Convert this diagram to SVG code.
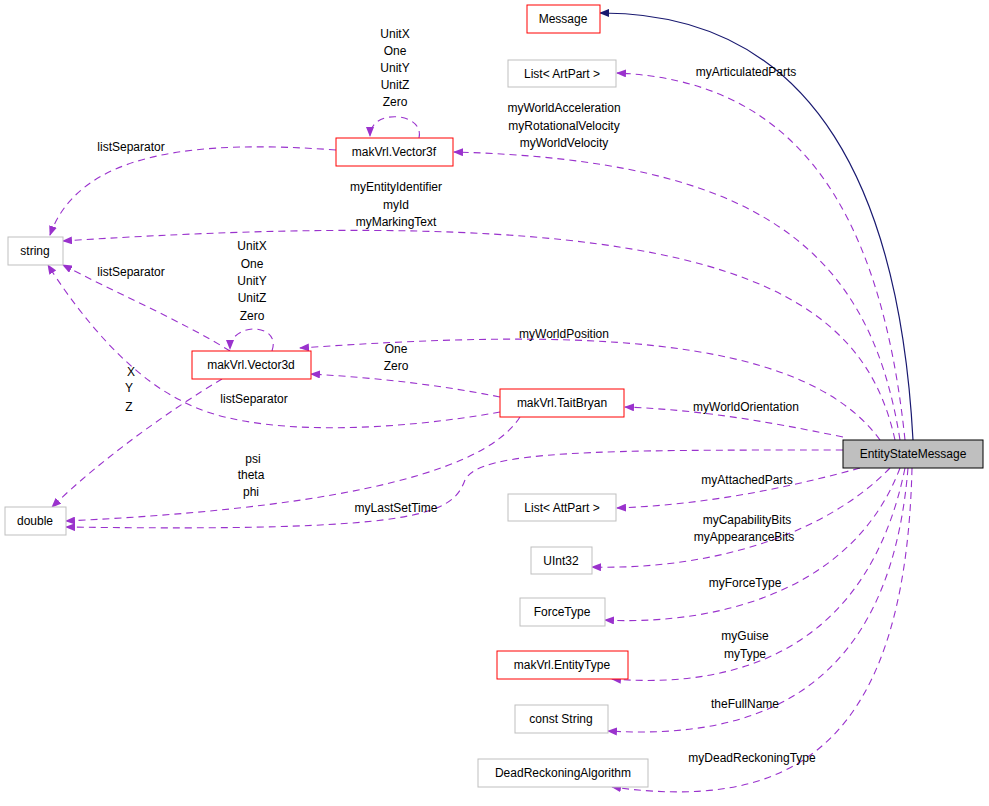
<svg xmlns="http://www.w3.org/2000/svg" width="989" height="806" viewBox="0 0 989 806">
<style>
text{font-family:"Liberation Sans",Arial,sans-serif;font-size:12px;fill:#000;text-anchor:middle}
.n rect{fill:#fff;stroke:#bfbfbf;stroke-width:1}
.r rect{stroke:#ff0000}
.e{fill:none;stroke:#9a32cd;stroke-dasharray:7,5;stroke-width:1.1;marker-end:url(#p)}
</style>
<defs>
<marker id="p" markerWidth="10" markerHeight="8" refX="9" refY="4" orient="auto" markerUnits="userSpaceOnUse"><path d="M0,0L10,4L0,8z" fill="#9a32cd"/></marker>
<marker id="b" markerWidth="10" markerHeight="8" refX="9" refY="4" orient="auto" markerUnits="userSpaceOnUse"><path d="M0,0L10,4L0,8z" fill="#191970"/></marker>
</defs>
<rect width="989" height="806" fill="#fff"/>
<g id="connectors">
<path d="M913,440 C900,200 820,12 600,13" fill="none" stroke="#191970" stroke-width="1.2" marker-end="url(#b)"/>
<path class="e" d="M905,440 C880,200 790,80 617,73"/>
<path class="e" d="M900,440 C870,250 760,160 454,152"/>
<path class="e" d="M895,440 C860,280 700,200 63,241"/>
<path class="e" d="M880,440 C800,330 560,330 300,348"/>
<path class="e" d="M843,437 C760,420 700,410 625,407"/>
<path class="e" d="M843,450 C600,450 480,450 465,480 C452,515 420,532 66,527"/>
<path class="e" d="M860,468 C780,490 700,505 617,508"/>
<path class="e" d="M890,468 C820,540 700,570 592,567"/>
<path class="e" d="M900,468 C850,600 700,625 605,620"/>
<path class="e" d="M905,468 C870,640 750,690 612,679"/>
<path class="e" d="M908,468 C890,690 760,740 608,731"/>
<path class="e" d="M912,468 C905,760 780,810 612,787"/>
<path class="e" d="M336,150 C200,140 80,150 50,235"/>
<path class="e" d="M419,138 C425,112 370,108 370,136"/>
<path class="e" d="M230,351 C180,320 110,290 63,265"/>
<path class="e" d="M272,351 C282,322 230,322 230,349"/>
<path class="e" d="M500,397 C440,385 380,378 311,374"/>
<path class="e" d="M500,412 C400,430 250,440 180,400 C120,370 70,300 48,265"/>
<path class="e" d="M222,379 C170,410 100,460 52,507"/>
<path class="e" d="M520,417 C480,480 300,510 66,521"/>
</g>
<g id="labels">
<text x="746" y="76">myArticulatedParts</text>
<text x="564" y="112">myWorldAcceleration</text>
<text x="564" y="130">myRotationalVelocity</text>
<text x="564" y="147">myWorldVelocity</text>
<text x="396" y="191">myEntityIdentifier</text>
<text x="396" y="209">myId</text>
<text x="396" y="226">myMarkingText</text>
<text x="564" y="338">myWorldPosition</text>
<text x="746" y="411">myWorldOrientation</text>
<text x="396" y="512">myLastSetTime</text>
<text x="747" y="484">myAttachedParts</text>
<text x="747" y="524">myCapabilityBits</text>
<text x="744" y="541">myAppearanceBits</text>
<text x="745" y="587">myForceType</text>
<text x="745" y="640">myGuise</text>
<text x="745" y="658">myType</text>
<text x="745" y="708">theFullName</text>
<text x="752" y="762">myDeadReckoningType</text>
<text x="131" y="151">listSeparator</text>
<text x="395" y="38">UnitX</text>
<text x="395" y="55">One</text>
<text x="395" y="72">UnitY</text>
<text x="395" y="89">UnitZ</text>
<text x="395" y="106">Zero</text>
<text x="131" y="276">listSeparator</text>
<text x="252" y="250">UnitX</text>
<text x="252" y="268">One</text>
<text x="252" y="285">UnitY</text>
<text x="252" y="302">UnitZ</text>
<text x="252" y="320">Zero</text>
<text x="396" y="353">One</text>
<text x="396" y="370">Zero</text>
<text x="254" y="403">listSeparator</text>
<text x="131" y="376">X</text>
<text x="129" y="392">Y</text>
<text x="129" y="411">Z</text>
<text x="253" y="463">psi</text>
<text x="251" y="479">theta</text>
<text x="251" y="496">phi</text>
</g>
<g id="Message" class="n r"><rect x="527" y="5" width="73" height="28"/><text x="563" y="23">Message</text></g>
<g id="ListArtPart" class="n"><rect x="508" y="60" width="108" height="27"/><text x="562" y="78">List&lt; ArtPart &gt;</text></g>
<g id="Vector3f" class="n r"><rect x="336" y="138" width="117" height="28"/><text x="394" y="156">makVrl.Vector3f</text></g>
<g id="string" class="n"><rect x="8" y="237" width="55" height="28"/><text x="35" y="255">string</text></g>
<g id="Vector3d" class="n r"><rect x="192" y="351" width="119" height="28"/><text x="251" y="369">makVrl.Vector3d</text></g>
<g id="TaitBryan" class="n r"><rect x="500" y="389" width="124" height="28"/><text x="562" y="407">makVrl.TaitBryan</text></g>
<g id="EntityStateMessage"><rect x="843" y="440" width="140" height="28" fill="#bfbfbf" stroke="#000"/><text x="913" y="458">EntityStateMessage</text></g>
<g id="double" class="n"><rect x="5" y="507" width="61" height="28"/><text x="35" y="525">double</text></g>
<g id="ListAttPart" class="n"><rect x="508" y="494" width="108" height="27"/><text x="562" y="512">List&lt; AttPart &gt;</text></g>
<g id="UInt32" class="n"><rect x="531" y="547" width="61" height="27"/><text x="561" y="565">UInt32</text></g>
<g id="ForceType" class="n"><rect x="520" y="598" width="85" height="28"/><text x="562" y="616">ForceType</text></g>
<g id="EntityType" class="n r"><rect x="497" y="651" width="131" height="28"/><text x="562" y="669">makVrl.EntityType</text></g>
<g id="constString" class="n"><rect x="515" y="705" width="93" height="28"/><text x="561" y="723">const String</text></g>
<g id="DeadReckoningAlgorithm" class="n"><rect x="478" y="759" width="170" height="28"/><text x="563" y="777">DeadReckoningAlgorithm</text></g>
</svg>
